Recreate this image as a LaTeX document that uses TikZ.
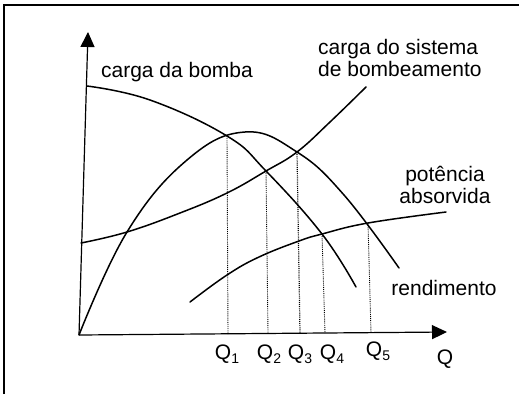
\documentclass[tikz,border=0pt]{standalone}
\usepackage{fontspec}
\setmainfont{Liberation Sans}
\usetikzlibrary{arrows.meta}
\newcommand{\qsub}[1]{Q\raisebox{-0.35ex}{\fontsize{14}{14}\selectfont #1}}
\begin{document}
\begin{tikzpicture}[x=1pt,y=-1pt,
  curve/.style={line width=1.5pt,line join=round,line cap=round},
  axis/.style={line width=1.2pt,-{Triangle[length=15pt,width=14pt]}},
  qline/.style={line width=0.9pt,densely dotted},
  lbl/.style={font=\fontsize{21}{22}\selectfont,inner sep=0pt},
  frame/.style={line width=1.6pt}]
\useasboundingbox (0,0) rectangle (519,394);
\fill[white] (0,0) rectangle (519,394);
% frame
\draw[frame] (4,394) -- (4,5) -- (519,5);
% axes
\coordinate (O) at (79,335);
\coordinate (ytop) at (88,32);
\coordinate (xend) at (447,332);
\draw[axis] (O) -- (ytop);
\draw[axis] (O) -- (xend);
% intersection points
\coordinate (i1) at (227,136);
\coordinate (i2) at (266,171);
\coordinate (i3) at (297,152);
\coordinate (i4) at (322,234);
\coordinate (i5) at (368,223);
\coordinate (a1) at (228,334);
\coordinate (a2) at (268,333);
\coordinate (a3) at (300,333);
\coordinate (a4) at (325,333);
\coordinate (a5) at (371,333);
% curves
\draw[curve] plot[smooth,tension=0.7] coordinates {(87,86) (150,100) (227,136) (266,171) (322,234) (356,287)};
\draw[curve] plot[smooth,tension=0.7] coordinates {(79,335) (127,232) (187,160) (245,132) (297,152) (344,195) (399,268)};
\draw[curve] plot[smooth,tension=0.7] coordinates {(81,243) (127,232) (180,213) (227,193) (266,171) (297,152) (330,122) (366,87)};
\draw[curve] plot[smooth,tension=0.7] coordinates {(190,302) (227,275) (259,257) (299,241) (322,234) (368,223) (446,212)};
% dotted verticals
\draw[qline] (i1) -- (a1);
\draw[qline] (i2) -- (a2);
\draw[qline,line width=1.2pt] (i3) -- (a3);
\draw[qline] (i4) -- (a4);
\draw[qline] (i5) -- (a5);
% labels
\node[lbl] (lb) at (177,72) {carga da bomba};
\node[lbl,align=left,anchor=west] (ls) at (318,58) {carga do sistema\\de bombeamento};
\node[lbl,align=center] (lp) at (445,185) {potência\\absorvida};
\node[lbl] (lr) at (444,288) {rendimento};
\node[lbl] (q1) at (227,354) {\qsub{1}};
\node[lbl] (q2) at (269,354) {\qsub{2}};
\node[lbl] (q3) at (300,354) {\qsub{3}};
\node[lbl] (q4) at (332,354) {\qsub{4}};
\node[lbl] (q5) at (378,351) {\qsub{5}};
\node[lbl] (q) at (445,359) {Q};
\end{tikzpicture}
\end{document}
